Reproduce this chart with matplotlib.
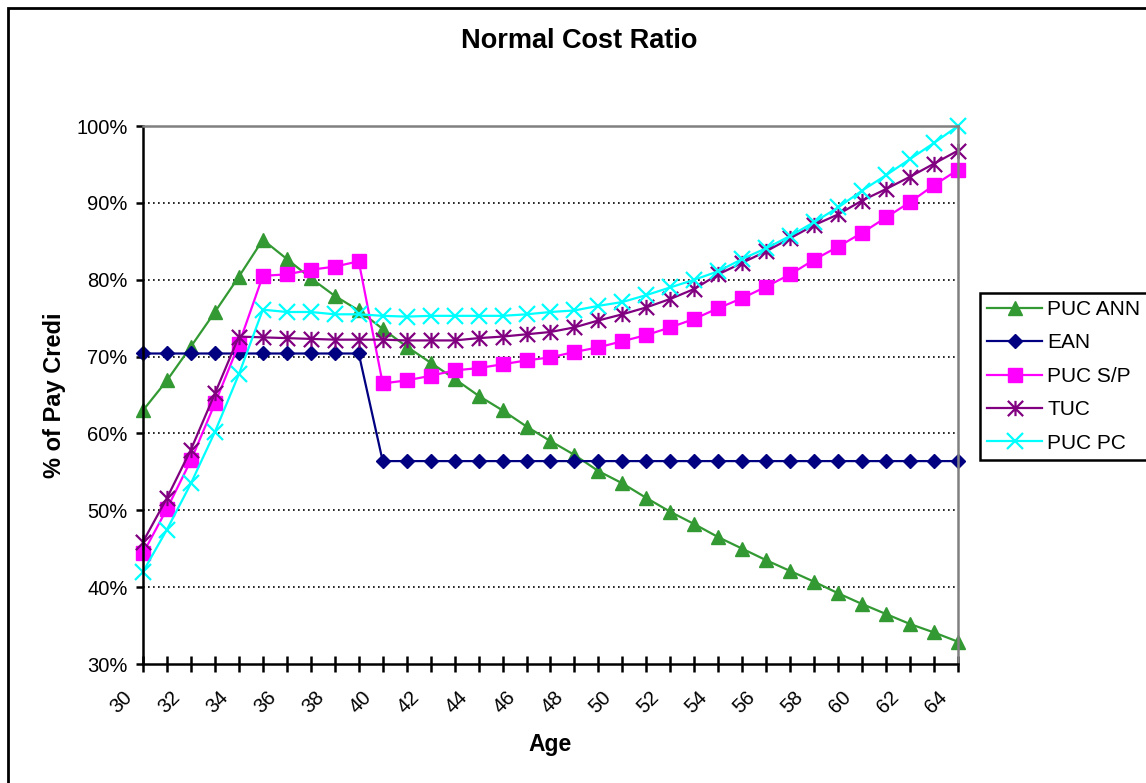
import numpy as np
import matplotlib
matplotlib.use("Agg")
import matplotlib.pyplot as plt
from matplotlib.path import Path
from matplotlib.patches import Rectangle
from matplotlib.transforms import ScaledTranslation, blended_transform_factory

plt.rcParams['font.family'] = ['Liberation Sans', 'DejaVu Sans']

# ages 30..64
ages = list(range(30, 65))

puc_ann = [63.0, 66.9, 71.3, 75.8, 80.4, 85.2, 82.7, 80.2, 77.9, 76.0,
           73.6, 71.3, 69.2, 67.1, 64.9, 63.0, 60.9, 59.0, 57.2, 55.1,
           53.5, 51.6, 49.8, 48.2, 46.5, 45.0, 43.5, 42.1, 40.7, 39.2,
           37.8, 36.5, 35.2, 34.1, 32.9]
ean = [70.4, 70.4, 70.4, 70.4, 70.4, 70.4, 70.4, 70.4, 70.4, 70.4,
       56.4, 56.4, 56.4, 56.4, 56.4, 56.4, 56.4, 56.4, 56.4, 56.4,
       56.4, 56.4, 56.4, 56.4, 56.4, 56.4, 56.4, 56.4, 56.4, 56.4,
       56.4, 56.4, 56.4, 56.4, 56.4]
puc_sp = [44.4, 50.2, 56.5, 63.9, 71.6, 80.5, 80.7, 81.3, 81.7, 82.4,
          66.5, 66.9, 67.5, 68.2, 68.5, 69.0, 69.5, 69.9, 70.6, 71.2,
          72.0, 72.8, 73.8, 74.9, 76.3, 77.6, 79.1, 80.7, 82.6, 84.3,
          86.1, 88.1, 90.1, 92.3, 94.3]
tuc = [45.9, 51.6, 57.9, 65.2, 72.6, 72.5, 72.4, 72.3, 72.2, 72.2,
       72.2, 72.1, 72.1, 72.1, 72.4, 72.6, 72.9, 73.2, 73.8, 74.7,
       75.5, 76.4, 77.5, 78.8, 80.7, 82.2, 83.7, 85.4, 87.1, 88.5,
       90.3, 91.8, 93.4, 95.1, 96.8]
puc_pc = [42.0, 47.5, 53.5, 60.2, 67.7, 76.1, 75.8, 75.8, 75.5, 75.5,
          75.3, 75.2, 75.3, 75.3, 75.3, 75.3, 75.5, 75.8, 76.0, 76.6,
          77.1, 78.0, 79.0, 80.0, 81.1, 82.7, 84.1, 85.7, 87.5, 89.4,
          91.6, 93.6, 95.7, 97.8, 100.0]

y_ticks = [30, 40, 50, 60, 70, 80, 90, 100]
x_labels = [30, 32, 34, 36, 38, 40, 42, 44, 46, 48, 50, 52, 54, 56, 58, 60, 62, 64]

# excel-like star: x with a vertical bar
star = Path([(0, -1), (0, 1), (-1, -1), (1, 1), (-1, 1), (1, -1)],
            [Path.MOVETO, Path.LINETO, Path.MOVETO, Path.LINETO, Path.MOVETO, Path.LINETO])

fig = plt.figure(figsize=(11.46, 7.83), dpi=100)
ax = fig.add_axes([143/1146, 1-664/783, (958-143)/1146, (664-126)/783])

series = [
    ("PUC ANN", puc_ann, "#339933", dict(marker="^", ms=10)),
    ("EAN", ean, "#000080", dict(marker="D", ms=7)),
    ("PUC S/P", puc_sp, "#FF00FF", dict(marker="s", ms=10)),
    ("TUC", tuc, "#800080", dict(marker=star, ms=11, mew=1.6)),
    ("PUC PC", puc_pc, "#00FFFF", dict(marker="x", ms=11, mew=1.6)),
]
for name, vals, col, mk in series:
    ax.plot(ages, vals, color=col, lw=1.6, mfc=col, mec=col, label=name,
            clip_on=False, **mk)

ax.set_xlim(30, 64)
ax.set_ylim(30, 100)
ax.set_yticks(y_ticks)
ax.set_yticklabels([f"{v}%" for v in y_ticks])
ax.set_xticks(ages)
ax.set_xticklabels([])

# rotated age labels, placed like excel does (a bit left of the tick)
trans = blended_transform_factory(ax.transData, ax.transAxes) + \
    ScaledTranslation(-0.14, -0.30, fig.dpi_scale_trans)
for a in x_labels:
    ax.text(a, 0, str(a), transform=trans, rotation=45, ha="right", va="center",
            rotation_mode="anchor", fontsize=14.5)

for v in y_ticks[1:-1]:
    ax.axhline(v, color="black", lw=1.2, ls=(0, (1, 2)), zorder=0)

for s in ["top", "right"]:
    ax.spines[s].set_color("#808080")
    ax.spines[s].set_linewidth(1.8)
for s in ["left", "bottom"]:
    ax.spines[s].set_linewidth(1.8)

ax.tick_params(axis="y", length=5, width=1.8, pad=6, labelsize=14.5)
ax.tick_params(axis="x", direction="inout", length=11, width=1.8)

ax.set_xlabel("Age", fontsize=16.5, fontweight="bold", labelpad=41)
ax.set_ylabel("% of Pay Credi", fontsize=17, fontweight="bold", labelpad=7.5)
fig.text(579/1146, 1-41/783, "Normal Cost Ratio", fontsize=19.5, fontweight="bold",
         ha="center", va="center")

leg = fig.legend(loc="upper left", bbox_to_anchor=(980/1146, 1-293/783),
                 borderaxespad=0, fontsize=15, handlelength=2.64, labelspacing=0.69,
                 borderpad=0.34, handletextpad=0.24, fancybox=False,
                 framealpha=1, edgecolor="black")
leg.get_frame().set_linewidth(1.8)

fig.patches.append(Rectangle((8/1146, -0.2), 1.5, 1.2 - 8/783,
                             transform=fig.transFigure, fill=False,
                             lw=2, ec="black"))

fig.savefig("out.png", dpi=100)
